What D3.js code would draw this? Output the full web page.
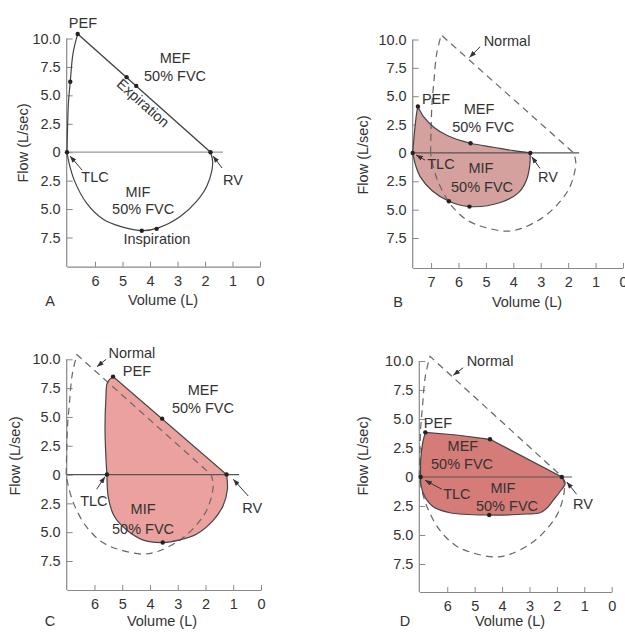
<!DOCTYPE html>
<html>
<head>
<meta charset="utf-8">
<script src="https://cdn.jsdelivr.net/npm/d3@7"></script>
<style>
  body { margin: 0; background: #fff; }
  text { font-family: "Liberation Sans", Arial, sans-serif; fill: #333; }
</style>
</head>
<body>
<script>
const W = 625, H = 632;

// tick values
const flowTicks = [10, 7.5, 5, 2.5, 0, -2.5, -5, -7.5];
const volTicksA = [6, 5, 4, 3, 2, 1, 0];
const volTicksB = [7, 6, 5, 4, 3, 2, 1, 0];

// normal loop [volume L, flow L/s]; inspiration flow stored negative
const normalRise = [[7.02, 0], [7.0, 2], [6.97, 4.2], [6.9, 6.2], [6.8, 8.7], [6.63, 10.4]];
const normalFall = [[6.63, 10.4], [1.8, 0]];
const normalInsp = [[1.8, 0], [1.72, -0.9], [1.92, -2.9], [2.3, -4.3], [2.9, -5.65], [3.7, -6.65], [4.25, -6.9],
  [5.05, -6.55], [5.7, -5.9], [6.3, -4.5], [6.75, -2.5], [6.95, -0.9], [7.02, 0]];

// B - obstructive
const obstrRise = [[7.67, 0], [7.6, 1.97], [7.53, 3.45], [7.48, 4.1]];
const obstrFall = [[7.48, 4.1], [7.26, 3.15], [6.9, 2.27], [6.41, 1.53], [5.56, 0.85], [4.72, 0.5], [3.99, 0.2], [3.38, 0]];
const obstrInsp = [[3.38, 0], [3.41, -1.27], [3.53, -2.45], [3.81, -3.5], [4.47, -4.37], [5.6, -4.73], [6.35, -4.26],
  [6.96, -3.34], [7.38, -2.16], [7.56, -1.12], [7.67, 0]];

// C - restrictive
const restrRise = [[5.55, 0], [5.59, 1.6], [5.62, 4.2], [5.59, 6.5], [5.53, 8.0], [5.33, 8.5]];
const restrFall = [[5.33, 8.5], [1.24, 0]];
const restrInsp = [[1.24, 0], [1.21, -1.28], [1.37, -2.72], [1.73, -4.0], [2.33, -5.18], [2.93, -5.67], [3.54, -5.9],
  [4.26, -5.67], [4.87, -4.75], [5.29, -3.6], [5.5, -2.0], [5.55, 0]];

// D - fixed obstruction
const fixedRise = [[6.97, 0], [6.97, 1.47], [6.9, 2.9], [6.8, 3.85]];
const fixedFall = [[6.8, 3.85], [5.66, 3.62], [4.44, 3.25], [1.82, 0]];
const fixedInsp = [[1.82, 0], [1.7, -0.55], [1.89, -1.27], [2.13, -2], [2.37, -2.7], [2.62, -3.08], [3.1, -3.19],
  [4.47, -3.28], [5.9, -3.08], [6.51, -2.56], [6.82, -1.7], [6.96, -0.69], [6.97, 0]];

// marked points
const dotsA = [[6.63, 10.4], [6.9, 6.2], [4.85, 6.6], [4.5, 5.83], [7.02, 0], [1.8, 0], [4.3, -6.9], [3.76, -6.74]];
const dotsB = [[7.48, 4.1], [5.56, 0.85], [7.67, 0], [3.38, 0], [5.6, -4.73], [6.35, -4.26]];
const dotsC = [[5.33, 8.5], [3.56, 4.85], [5.55, 0], [1.24, 0], [3.54, -5.9]];
const dotsD = [[6.8, 3.85], [4.44, 3.25], [6.97, 0], [1.82, 0], [4.47, -3.28]];

// annotations [text, volume, flow]
const labelsA = [["PEF", 6.44, 11.4], ["MEF", 3.09, 8.3], ["50% FVC", 3.09, 6.7], ["TLC", 6.0, -2.2],
  ["RV", 0.98, -2.4], ["MIF", 4.44, -3.5], ["50% FVC", 4.25, -5.0], ["Inspiration", 3.75, -7.64]];
const labelsB = [["Normal", 4.23, 9.86], ["PEF", 6.82, 4.75], ["MEF", 5.25, 3.87], ["50% FVC", 5.1, 2.28],
  ["TLC", 6.64, -0.98], ["MIF", 5.18, -1.33], ["50% FVC", 5.14, -3.0], ["RV", 2.74, -2.12]];
const labelsC = [["Normal", 4.65, 10.57], ["PEF", 4.47, 8.98], ["MEF", 2.09, 7.34], ["50% FVC", 2.09, 5.78],
  ["TLC", 6.02, -2.29], ["MIF", 4.25, -2.98], ["50% FVC", 4.25, -4.72], ["RV", 0.32, -2.9]];
const labelsD = [["Normal", 4.44, 10.0], ["PEF", 6.34, 4.66], ["MEF", 5.43, 2.67], ["50% FVC", 5.46, 1.12],
  ["TLC", 5.65, -1.47], ["MIF", 3.97, -0.95], ["50% FVC", 3.82, -2.5], ["RV", 1.05, -2.33]];

// pointer arrows [from, to]
const arrowsA = [[[6.47, -1.57], [6.91, -0.33]], [[1.38, -1.39], [1.71, -0.33]]];
const arrowsB = [[[5.21, 9.36], [5.6, 8.42]], [[7.22, -0.63], [7.55, -0.19]], [[3.03, -1.36], [3.33, -0.33]]];
const arrowsC = [[[5.58, 10.0], [5.91, 9.36]], [[5.92, -1.27], [5.62, -0.18]], [[0.46, -1.86], [1.0, -0.41]]];
const arrowsD = [[[5.42, 9.42], [5.78, 8.77]], [[6.2, -1.06], [6.81, -0.28]], [[1.28, -1.49], [1.64, -0.43]]];

const panels = [
  { letter: "A", x0: 66.7, x1: 260, vmax: 7.03, y10: 38.5, y75: 237.5, yb: 266.7, volTicks: volTicksA, zeroEnd: 1.35,
    flowLab: [23, 143], volLab: [163, 300], letterPos: [50, 301], normal: false,
    loop: [normalRise, normalFall, normalInsp], fill: "none", dots: dotsA, labels: labelsA, arrows: arrowsA },
  { letter: "B", x0: 412.7, x1: 623, vmax: 7.67, y10: 39.5, y75: 238, yb: 268, volTicks: volTicksB, zeroEnd: 1.6,
    flowLab: [363, 155], volLab: [527, 302], letterPos: [398, 302], normal: true,
    loop: [obstrRise, obstrFall, obstrInsp], fill: "#d5a19e", dots: dotsB, labels: labelsB, arrows: arrowsB },
  { letter: "C", x0: 66.7, x1: 261, vmax: 7.0, y10: 359.3, y75: 561, yb: 590, volTicks: volTicksA, zeroEnd: 0.79,
    flowLab: [15, 456], volLab: [162, 621], letterPos: [50, 621], normal: true,
    loop: [restrRise, restrFall, restrInsp], fill: "#eba29e", dots: dotsC, labels: labelsC, arrows: arrowsC },
  { letter: "D", x0: 419.3, x1: 611.7, vmax: 7.02, y10: 361, y75: 564, yb: 592, volTicks: volTicksA, zeroEnd: 1.45,
    flowLab: [363, 456], volLab: [510, 621], letterPos: [405, 621], normal: true,
    loop: [fixedRise, fixedFall, fixedInsp], fill: "#d67c78", dots: dotsD, labels: labelsD, arrows: arrowsD }
];

const svg = d3.select("body").append("svg").attr("width", W).attr("height", H);

svg.append("defs").append("marker")
  .attr("id", "arr")
  .attr("viewBox", "0 0 8 6")
  .attr("refX", 8).attr("refY", 3)
  .attr("markerWidth", 7).attr("markerHeight", 5)
  .attr("orient", "auto")
  .append("path").attr("d", "M0,0L8,3L0,6Z").attr("fill", "#333");

const curved = d3.curveCatmullRom.alpha(0.5);

function drawPanel(p) {
  const x = d3.scaleLinear().domain([p.vmax, 0]).range([p.x0, p.x1]);
  const y = d3.scaleLinear().domain([10, -7.5]).range([p.y10, p.y75]);
  const g = svg.append("g").attr("font-size", "14.5px");

  const line = (pts, c) => d3.line().x(d => x(d[0])).y(d => y(d[1])).curve(c)(pts);
  // expiration rise is curved, the fall may be straight, inspiration curved
  const loopPath = (segs, fallCurve) => segs.map((s, i) => {
    const c = i === 1 ? fallCurve : curved;
    const d = line(s, c);
    return i ? d.replace(/^M[^A-Za-z]+/, "") : d;
  }).join("") + "Z";

  const fallCurve = p.letter === "B" ? curved : d3.curveLinear;

  // y axis
  const ya = g.append("g")
    .attr("transform", `translate(${p.x0},0)`)
    .call(d3.axisLeft(y).tickValues(flowTicks).tickSizeInner(-6).tickSizeOuter(0).tickPadding(6)
      .tickFormat(d => d === 0 ? "0" : d3.format(".1f")(Math.abs(d))));
  ya.select(".domain").remove();
  ya.selectAll("line").attr("stroke", "#888");
  ya.selectAll("text").attr("font-size", "14.5px").attr("font-family", null).attr("fill", "#333");
  g.append("line").attr("x1", p.x0).attr("x2", p.x0).attr("y1", y(10)).attr("y2", p.yb)
    .attr("stroke", "#888").attr("stroke-width", 1.2);

  // x axis
  const xa = g.append("g")
    .attr("transform", `translate(0,${p.yb})`)
    .call(d3.axisBottom(x).tickValues(p.volTicks).tickSizeInner(-5).tickSizeOuter(0).tickPadding(9)
      .tickFormat(d3.format("d")));
  xa.select(".domain").attr("stroke", "#888").attr("stroke-width", 1.2);
  xa.selectAll("line").attr("stroke", "#888");
  xa.selectAll("text").attr("font-size", "14.5px").attr("font-family", null).attr("fill", "#333");

  // loop fill
  const d = loopPath(p.loop, fallCurve);
  if (p.fill !== "none") g.append("path").attr("d", d).attr("fill", p.fill).attr("stroke", "none");

  // zero flow line
  g.append("line").attr("x1", p.x0).attr("x2", x(p.zeroEnd)).attr("y1", y(0)).attr("y2", y(0))
    .attr("stroke", p.fill === "none" ? "#999" : "#555").attr("stroke-width", 1.2);

  // normal reference
  if (p.normal) {
    g.append("path").attr("d", loopPath([normalRise, normalFall, normalInsp], d3.curveLinear))
      .attr("fill", "none").attr("stroke", "#666").attr("stroke-width", 1.2).attr("stroke-dasharray", "7,5");
  }

  g.append("path").attr("d", d).attr("fill", "none").attr("stroke", "#444").attr("stroke-width", 1.2);

  g.selectAll(".dot").data(p.dots).enter().append("circle")
    .attr("cx", d => x(d[0])).attr("cy", d => y(d[1])).attr("r", 2.2).attr("fill", "#222");

  g.selectAll(".arrow").data(p.arrows).enter().append("line")
    .attr("x1", d => x(d[0][0])).attr("y1", d => y(d[0][1]))
    .attr("x2", d => x(d[1][0])).attr("y2", d => y(d[1][1]))
    .attr("stroke", "#333").attr("stroke-width", 1).attr("marker-end", "url(#arr)");

  g.selectAll(".lab").data(p.labels).enter().append("text")
    .attr("x", d => x(d[1])).attr("y", d => y(d[2])).attr("dy", "0.35em")
    .attr("text-anchor", "middle").text(d => d[0]);

  if (p.letter === "A") {
    const a = normalFall[0], b = normalFall[1];
    const ang = Math.atan2(y(b[1]) - y(a[1]), x(b[0]) - x(a[0])) * 180 / Math.PI;
    g.append("text")
      .attr("transform", `translate(${x(4.25)},${y(4.33)}) rotate(${ang})`)
      .attr("dy", "0.35em").attr("text-anchor", "middle").text("Expiration");
  }

  g.append("text")
    .attr("transform", `translate(${p.flowLab[0]},${p.flowLab[1]}) rotate(-90)`)
    .attr("dy", "0.35em").attr("text-anchor", "middle").text("Flow (L/sec)");
  g.append("text").attr("x", p.volLab[0]).attr("y", p.volLab[1]).attr("dy", "0.35em")
    .attr("text-anchor", "middle").text("Volume (L)");
  g.append("text").attr("x", p.letterPos[0]).attr("y", p.letterPos[1]).attr("dy", "0.35em")
    .attr("text-anchor", "middle").text(p.letter);
}

panels.forEach(drawPanel);
</script>
</body>
</html>
